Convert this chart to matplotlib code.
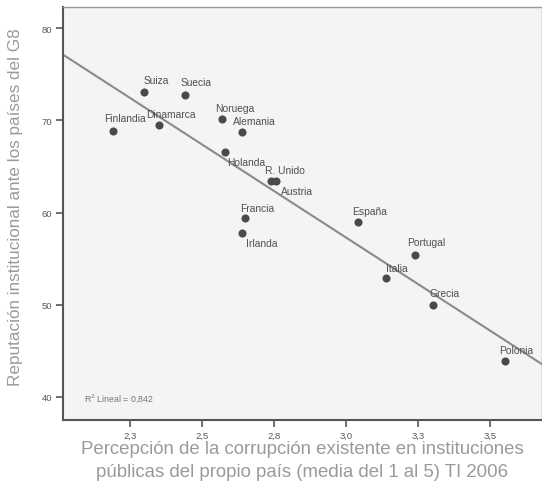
import numpy as np
import matplotlib
matplotlib.use("Agg")
import matplotlib.pyplot as plt

plt.rcParams['font.family'] = ['Liberation Sans', 'DejaVu Sans']

# Country data: corruption perception (x) vs institutional reputation (y)
paises = ["Suiza", "Suecia", "Finlandia", "Dinamarca", "Noruega", "Alemania",
          "Holanda", "R. Unido", "Austria", "Francia", "Irlanda", "España",
          "Portugal", "Italia", "Grecia", "Polonia"]
corrupcion = [2.30, 2.44, 2.19, 2.35, 2.57, 2.64, 2.58, 2.74, 2.755, 2.65,
              2.64, 3.04, 3.24, 3.14, 3.30, 3.55]
reputacion = [73.1, 72.7, 68.8, 69.5, 70.2, 68.7, 66.6, 63.4, 63.4, 59.4,
              57.8, 59.0, 55.4, 52.9, 50.0, 43.9]

# Label offsets in pixels (dx, dy) from each point
offsets = {
    "Suiza": (12, 12), "Suecia": (11, 13), "Finlandia": (12, 13),
    "Dinamarca": (12, 11), "Noruega": (12, 11), "Alemania": (12, 11),
    "Holanda": (21, -10), "R. Unido": (14, 11), "Austria": (21, -10),
    "Francia": (12, 10), "Irlanda": (19, -10), "España": (12, 11),
    "Portugal": (11, 13), "Italia": (10, 10), "Grecia": (12, 12),
    "Polonia": (12, 11),
}

xticks = [2.25, 2.5, 2.75, 3.0, 3.25, 3.5]
xticklabels = ["2,3", "2,5", "2,8", "3,0", "3,3", "3,5"]
yticks = [40, 50, 60, 70, 80]

fig = plt.figure(figsize=(5.42, 4.85), dpi=100)
ax = fig.add_axes([0.1162, 0.132, 0.8838, 0.8515])
ax.set_facecolor("#f3f4f4")

x = np.array(corrupcion)
y = np.array(reputacion)

# Linear fit line across the whole x range
slope, intercept = np.polyfit(x, y, 1)
xlim = (2.017, 3.68)
xs = np.array(xlim)
ax.plot(xs, slope * xs + intercept, color="#8a8a8a", lw=1.5, zorder=2)

ax.scatter(x, y, s=34, color="#4a4a4a", zorder=3, linewidths=0)

for name, xi, yi in zip(paises, corrupcion, reputacion):
    dx, dy = offsets[name]
    ax.annotate(name, (xi, yi), xytext=(dx, dy), textcoords="offset pixels",
                ha="center", va="center", fontsize=7.4, color="#505050",
                zorder=4)

ax.text(0.044, 0.054, "R$^{2}$ Lineal = 0,842", transform=ax.transAxes,
        fontsize=6.3, color="#777777", ha="left", va="center")

ax.set_xlim(*xlim)
ax.set_ylim(37.5, 82.3)
ax.set_xticks(xticks)
ax.set_xticklabels(xticklabels)
ax.set_yticks(yticks)

ax.tick_params(axis="both", direction="out", length=5, width=1.2,
               color="#555555", labelsize=6.8, labelcolor="#555555", pad=3)

for side in ("left", "bottom"):
    ax.spines[side].set_color("#555555")
    ax.spines[side].set_linewidth(1.5)
for side in ("top", "right"):
    ax.spines[side].set_color("#999999")
    ax.spines[side].set_linewidth(1.0)

ax.set_xlabel("Percepción de la corrupción existente en instituciones\n"
              "públicas del propio país (media del 1 al 5) TI 2006",
              fontsize=13.4, color="#9a9a9a", linespacing=1.45, labelpad=0)
ax.set_ylabel("Reputación institucional ante los países del G8",
              fontsize=12.3, color="#9a9a9a")
ax.yaxis.set_label_coords(-0.084, 0.518)

fig.savefig("out.png", dpi=100, facecolor="white")
